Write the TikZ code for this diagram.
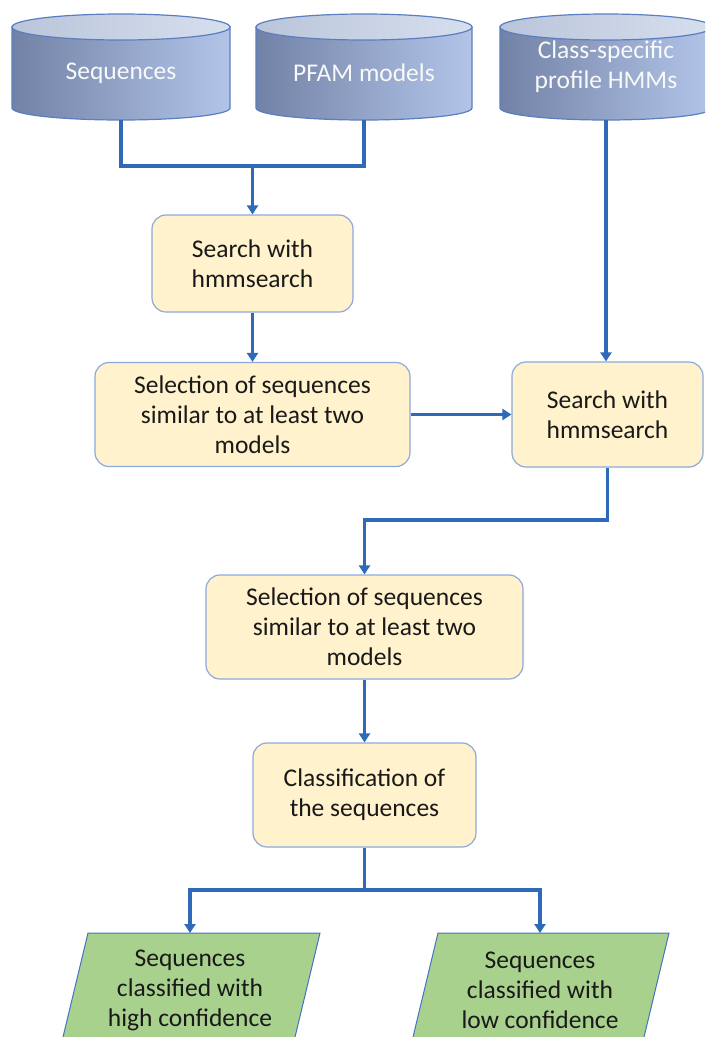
\documentclass[tikz,border=0pt]{standalone}
\usepackage{fontspec}
\setmainfont{Carlito}
\usetikzlibrary{arrows.meta}
\definecolor{arrowblue}{HTML}{2E6AB8}
\definecolor{boxfill}{HTML}{FFF2CC}
\definecolor{boxborder}{HTML}{8EA9DB}
\definecolor{greenfill}{HTML}{A9D18E}
\definecolor{greenborder}{HTML}{4472C4}
\definecolor{cylL}{HTML}{7282A6}
\definecolor{cylR}{HTML}{B2C5E8}
\definecolor{topL}{HTML}{BAC5DA}
\definecolor{topR}{HTML}{D6DFEE}
\definecolor{cylborder}{HTML}{5A7EC0}
\newcommand\drawcyl[2]{%
  \shadedraw[left color=cylL,right color=cylR,draw=cylborder,line width=1.2pt]
    (#1-#2,-27) -- (#1-#2,-108) arc[start angle=180,end angle=360,x radius=#2,y radius=12] -- (#1+#2,-27) -- cycle;
  \shadedraw[left color=topL,right color=topR,draw=cylborder,line width=1.2pt]
    (#1,-27) ellipse[x radius=#2,y radius=13];
}
\begin{document}
\begin{tikzpicture}[x=1pt,y=1pt,
  conn/.style={draw=arrowblue,line width=3.4pt},
  arr/.style={conn,-{Triangle[length=9pt,width=11pt]}},
  txt/.style={align=center,inner sep=0pt,font=\fontsize{25.5}{30}\selectfont},
  cyltext/.style={txt,text=white!95!gray},
  procbox/.style={txt,draw=boxborder,line width=1.2pt,fill=boxfill,rounded corners=14pt,text=black!90},
  outtext/.style={txt,text=black!90}]
\clip (0,0) rectangle (705,-1037);
% databases
\drawcyl{121}{109}
\drawcyl{364}{108}
\drawcyl{606}{106}
\node[cyltext] (seq) at (121,-73) {Sequences};
\node[cyltext] (pfam) at (364,-73) {PFAM models};
\node[cyltext] (hmm) at (606,-67) {Class-specific\\profile HMMs};
\coordinate (seqbot) at (121,-120);
\coordinate (pfambot) at (364,-120);
\coordinate (hmmbot) at (606,-120);
% process boxes
\node[procbox,minimum width=201pt,minimum height=97pt] (box1) at (252.5,-263.5) {Search with\\hmmsearch};
\node[procbox,minimum width=315pt,minimum height=104pt] (box2) at (252.5,-414.5) {Selection of sequences\\similar to at least two\\models};
\node[procbox,minimum width=191pt,minimum height=105pt] (box3) at (607.5,-414.5) {Search with\\hmmsearch};
\node[procbox,minimum width=317pt,minimum height=104pt] (box4) at (364.5,-627) {Selection of sequences\\similar to at least two\\models};
\node[procbox,minimum width=223pt,minimum height=104pt] (box5) at (364.5,-795) {Classification of\\the sequences};
% outputs
\filldraw[fill=greenfill,draw=greenborder,line width=1pt] (88,-933) -- (320,-933) -- (289.5,-1060) -- (57.5,-1060) -- cycle;
\filldraw[fill=greenfill,draw=greenborder,line width=1pt] (438,-933) -- (669,-933) -- (638.5,-1060) -- (407.5,-1060) -- cycle;
\node[outtext] (high) at (190,-990) {Sequences\\classified with\\high confidence};
\node[outtext] (low) at (540,-990) {Sequences\\classified with\\low confidence};
\coordinate (hightop) at (190,-933);
\coordinate (lowtop) at (540,-933);
% connectors
\coordinate (join) at (252.5,-166);
\coordinate (turn) at (364.5,-520);
\coordinate (split) at (364.5,-890);
\draw[conn] (seqbot) |- (join) -| (pfambot);
\draw[arr] (join) -- (box1.north);
\draw[arr] (box1.south) -- (box2.north);
\draw[arr] (box2.east) -- (box3.west);
\draw[arr] (hmmbot) -- (hmmbot |- box3.north);
\draw[arr] (box3.south) |- (turn) -- (box4.north);
\draw[arr] (box4.south) -- (box5.north);
\draw[conn] (box5.south) -- (split);
\draw[arr] (split) -| (hightop);
\draw[arr] (split) -| (lowtop);
\end{tikzpicture}
\end{document}
